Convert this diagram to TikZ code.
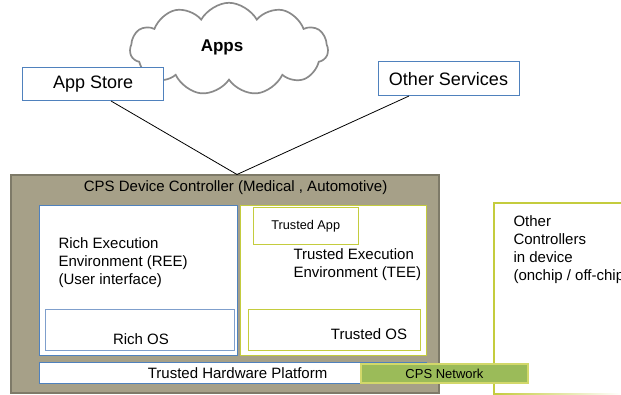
\documentclass[tikz,border=0pt]{standalone}
\usepackage{fontspec}
\setmainfont{Liberation Sans}
\usetikzlibrary{shapes.symbols,calc}

\definecolor{cpsfill}{HTML}{A6A088}
\definecolor{cpsedge}{HTML}{7E7A68}
\definecolor{blueedge}{HTML}{4F81BD}
\definecolor{paleblue}{HTML}{7F9FCC}
\definecolor{limeedge}{HTML}{C4CC3E}
\definecolor{netfill}{HTML}{9BBB59}
\definecolor{netedge}{HTML}{D2D86A}
\definecolor{cloudedge}{HTML}{8A8A8A}

\begin{document}
\begin{tikzpicture}[x=1pt,y=-1pt,
  panel/.style={draw, line width=1pt, fill=white, anchor=north west,
                inner sep=0pt, outer sep=0pt},
  bigtxt/.style={font=\fontsize{18}{20}\selectfont},
  midtxt/.style={font=\fontsize{15}{17.8}\selectfont},
  smalltxt/.style={font=\fontsize{12.7}{15}\selectfont},
  link/.style={draw=black, line width=0.8pt}]
\useasboundingbox (0,0) rectangle (621,395);

% cloud of apps
\node[cloud, draw=cloudedge, line width=1.7pt, fill=white, cloud puffs=11,
      cloud puff arc=115, cloud ignores aspect, minimum width=198pt, minimum height=84pt,
      inner sep=0pt, yscale=1.1] (cloud) at (229,49) {};
\node[font=\fontsize{17}{20}\selectfont\bfseries] (appslbl) at (222,47) {Apps};

% services above the controller
\node[panel, draw=blueedge, minimum width=141pt, minimum height=33pt, bigtxt]
  (store) at (22.6,68) {App Store};
\node[panel, draw=blueedge, minimum width=141pt, minimum height=34pt, bigtxt]
  (other) at (378,62) {Other Services};

% CPS device controller
\node[panel, fill=cpsfill, draw=cpsedge, line width=1.6pt,
      minimum width=428pt, minimum height=218pt] (cps) at (10.7,175) {};
\node[midtxt] (cpstitle) at (235.6,188) {CPS Device Controller (Medical , Automotive)};
\coordinate (hub) at (237,174.5);

\draw[link] ($(store.south west)!0.627!(store.south east)$) -- (hub);
\draw[link] ($(other.south west)!0.22!(other.south east)$) -- (hub);

% rich execution environment
\node[panel, draw=blueedge, minimum width=198pt, minimum height=149pt] (ree) at (39,206) {};
\node[midtxt, align=left, anchor=west] (reetxt) at (55,262.5)
  {Rich Execution\\Environment (REE)\\(User interface)};
\node[panel, draw=paleblue, minimum width=189pt, minimum height=40pt] (richos) at (45,310) {};
\node[midtxt] (richoslbl) at (141,339) {Rich OS};

% trusted execution environment
\node[panel, draw=limeedge, minimum width=186pt, minimum height=149pt] (tee) at (240,206) {};
\node[panel, draw=limeedge, minimum width=104.5pt, minimum height=37pt, smalltxt]
  (tapp) at (253.5,208) {Trusted App};
\node[midtxt, align=left, anchor=west] (teetxt) at (290,265)
  {Trusted Execution\\Environment (TEE)};
\node[panel, draw=limeedge, minimum width=172pt, minimum height=40pt] (tos) at (248,310) {};
\node[midtxt] (toslbl) at (369,334) {Trusted OS};

% other controllers in the device (runs past the right edge)
\node[panel, draw=limeedge, line width=1.2pt, minimum width=150pt, minimum height=191pt]
  (othc) at (494,203) {};
\shade[left color=limeedge, right color=white] (495,393) rectangle (621,395);
\node[midtxt, align=left, anchor=west] (othctxt) at (510,249.5)
  {Other\\Controllers\\in device\\(onchip / off-chip};

% hardware platform and network
\node[panel, draw=blueedge, minimum width=387.5pt, minimum height=21pt] (thp) at (39,362) {};
\node[midtxt] (thplbl) at (237.6,373) {Trusted Hardware Platform};
\node[panel, fill=netfill, draw=netedge, line width=1.5pt, minimum width=167pt,
      minimum height=19pt, font=\fontsize{13}{15}\selectfont] (net) at (361,364) {CPS Network};
\end{tikzpicture}
\end{document}
